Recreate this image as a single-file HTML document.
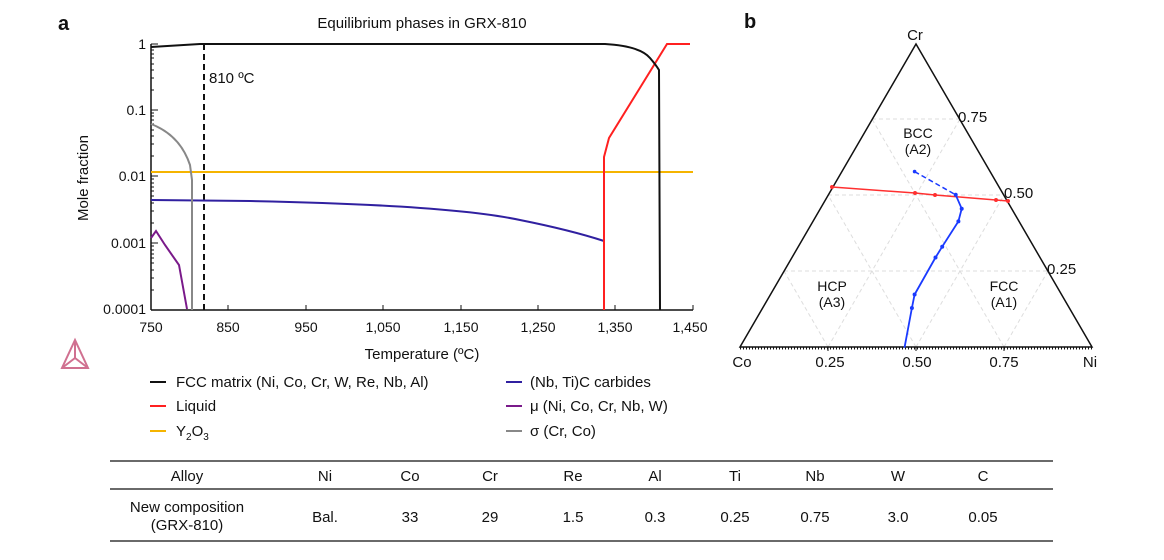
<!DOCTYPE html>
<html><head><meta charset="utf-8"><style>
body{margin:0;background:#fff;width:1164px;height:560px;overflow:hidden;font-family:"Liberation Sans",Arial,sans-serif;}
svg{position:absolute;left:0;top:0}
text{font-family:"Liberation Sans",Arial,sans-serif;fill:#111}
</style></head><body>
<svg width="1164" height="560" viewBox="0 0 1164 560">
<text x="58" y="30" font-size="20" font-weight="bold">a</text>
<text x="422" y="28" font-size="15" text-anchor="middle">Equilibrium phases in GRX-810</text>
<g stroke="#111" stroke-width="1.5" fill="none">
<line x1="151" y1="44" x2="151" y2="310"/>
<line x1="151" y1="310" x2="693" y2="310"/>
</g>
<g stroke="#111" stroke-width="1">
<line x1="151" y1="44" x2="158" y2="44"/><line x1="151" y1="110" x2="158" y2="110"/><line x1="151" y1="176" x2="158" y2="176"/><line x1="151" y1="243" x2="158" y2="243"/>
<line x1="228" y1="310" x2="228" y2="305"/><line x1="306" y1="310" x2="306" y2="305"/><line x1="383" y1="310" x2="383" y2="305"/><line x1="461" y1="310" x2="461" y2="305"/><line x1="538" y1="310" x2="538" y2="305"/><line x1="615" y1="310" x2="615" y2="305"/><line x1="693" y1="310" x2="693" y2="305"/>
</g>
<g stroke="#111" stroke-width="1">
<path d="M151,290h3M151,278h3M151,270h3M151,263h3M151,258h3M151,254h3M151,250h3M151,246h3
M151,223h3M151,211h3M151,203h3M151,196h3M151,191h3M151,187h3M151,183h3M151,179h3
M151,156h3M151,144h3M151,136h3M151,130h3M151,124h3M151,120h3M151,116h3M151,113h3
M151,90h3M151,78h3M151,70h3M151,64h3M151,58h3M151,54h3M151,50h3M151,47h3"/>
</g>
<g font-size="14" text-anchor="end">
<text x="146" y="49">1</text><text x="146" y="115">0.1</text><text x="146" y="181">0.01</text><text x="146" y="248">0.001</text><text x="146" y="314">0.0001</text>
</g>
<g font-size="14" text-anchor="middle">
<text x="151" y="332">750</text><text x="228" y="332">850</text><text x="306" y="332">950</text><text x="383" y="332">1,050</text><text x="461" y="332">1,150</text><text x="538" y="332">1,250</text><text x="615" y="332">1,350</text><text x="690" y="332">1,450</text>
</g>
<text x="422" y="359" font-size="15" text-anchor="middle">Temperature (ºC)</text>
<text transform="translate(88,178) rotate(-90)" font-size="15" text-anchor="middle">Mole fraction</text>
<line x1="204" y1="44" x2="204" y2="310" stroke="#111" stroke-width="2" stroke-dasharray="6,4"/>
<text x="209" y="83" font-size="15">810 ºC</text>
<polyline points="151,172 693,172" stroke="#f5b400" stroke-width="2" fill="none"/>
<path d="M151,200 L250,201 Q450,205 520,220 Q570,230 604,241" stroke="#3020a0" stroke-width="2" fill="none"/>
<path d="M151,124 Q180,135 190,165 L192,180 L192,310" stroke="#888" stroke-width="2" fill="none"/>
<path d="M151,238 L156,231 L165,245 L179,265 L187,309" stroke="#7a1a8a" stroke-width="2" fill="none"/>
<path d="M604,310 L604,157 L609,138 L667,44 L690,44" stroke="#ff2020" stroke-width="2" fill="none"/>
<path d="M151,47 L200,44 L605,44 Q640,46 650,58 Q656,65 659,70 L660,310" stroke="#111" stroke-width="2" fill="none"/>
<g stroke="#d07090" fill="none" stroke-width="2"><polygon points="75,340 62,368 88,368"/><line x1="75" y1="340" x2="75" y2="358"/><line x1="62" y1="368" x2="75" y2="358"/><line x1="88" y1="368" x2="75" y2="358"/></g>
<g stroke-width="2">
<line x1="150" y1="382" x2="166" y2="382" stroke="#111"/>
<line x1="150" y1="406" x2="166" y2="406" stroke="#ff2020"/>
<line x1="150" y1="431" x2="166" y2="431" stroke="#f5b400"/>
<line x1="506" y1="382" x2="522" y2="382" stroke="#3020a0"/>
<line x1="506" y1="406" x2="522" y2="406" stroke="#7a1a8a"/>
<line x1="506" y1="431" x2="522" y2="431" stroke="#888"/>
</g>
<g font-size="15">
<text x="176" y="387">FCC matrix (Ni, Co, Cr, W, Re, Nb, Al)</text>
<text x="176" y="411">Liquid</text>
<text x="176" y="436">Y<tspan font-size="10" dy="4">2</tspan><tspan dy="-4">O</tspan><tspan font-size="10" dy="4">3</tspan></text>
<text x="530" y="387">(Nb, Ti)C carbides</text>
<text x="530" y="411">μ (Ni, Co, Cr, Nb, W)</text>
<text x="530" y="436">σ (Cr, Co)</text>
</g>
<text x="744" y="28" font-size="20" font-weight="bold">b</text>
<g stroke="#ddd" stroke-width="1" stroke-dasharray="4,3" fill="none">
<line x1="784" y1="271" x2="1048" y2="271"/><line x1="828" y1="195" x2="1004" y2="195"/><line x1="872" y1="119" x2="960" y2="119"/>
<line x1="828" y1="347" x2="960" y2="119"/><line x1="916" y1="347" x2="1004" y2="195"/><line x1="1004" y1="347" x2="1048" y2="271"/>
<line x1="1004" y1="347" x2="872" y2="119"/><line x1="916" y1="347" x2="828" y2="195"/><line x1="828" y1="347" x2="784" y2="271"/>
</g>
<polygon points="740,347 1092,347 916,44" fill="none" stroke="#111" stroke-width="1.5"/>
<g stroke="#111" stroke-width="1">
<line x1="828" y1="347" x2="828" y2="351"/><line x1="916" y1="347" x2="916" y2="351"/><line x1="1004" y1="347" x2="1004" y2="351"/>
</g>
<line x1="740" y1="348.5" x2="1092" y2="348.5" stroke="#111" stroke-width="2" stroke-dasharray="1,2"/>
<text x="915" y="40" font-size="15" text-anchor="middle">Cr</text>
<g font-size="15">
<text x="958" y="122">0.75</text><text x="1004" y="198">0.50</text><text x="1047" y="274">0.25</text>
</g>
<g font-size="15" text-anchor="middle">
<text x="742" y="367">Co</text><text x="830" y="367">0.25</text><text x="917" y="367">0.50</text><text x="1004" y="367">0.75</text><text x="1090" y="367">Ni</text>
</g>
<g font-size="14" text-anchor="middle">
<text x="918" y="138">BCC</text><text x="918" y="154">(A2)</text>
<text x="832" y="291">HCP</text><text x="832" y="307">(A3)</text>
<text x="1004" y="291">FCC</text><text x="1004" y="307">(A1)</text>
</g>
<polyline points="832,187 915,193 935,195 996,200 1008,201" stroke="#ff3030" stroke-width="1.5" fill="none"/>
<g fill="#ff3030"><circle cx="832" cy="187" r="2"/><circle cx="915" cy="193" r="2"/><circle cx="935" cy="195" r="2"/><circle cx="996" cy="200" r="2"/><circle cx="1008" cy="201" r="2"/></g>
<line x1="914.6" y1="171.6" x2="955.7" y2="194.8" stroke="#1a3aff" stroke-width="1.5" stroke-dasharray="5,3"/>
<polyline points="955.7,194.8 961.7,208.7 958.4,221.4 942.2,246.7 935.5,257.5 914.6,294.5 911.9,308 904.5,347.7" stroke="#1a3aff" stroke-width="1.8" fill="none"/>
<g fill="#1a3aff"><circle cx="914.6" cy="171.6" r="1.8"/><circle cx="955.7" cy="194.8" r="2"/><circle cx="961.7" cy="208.7" r="2"/><circle cx="958.4" cy="221.4" r="2"/><circle cx="942.2" cy="246.7" r="2"/><circle cx="935.5" cy="257.5" r="2"/><circle cx="914.6" cy="294.5" r="2"/><circle cx="911.9" cy="308" r="2"/></g>
<g stroke="#111" stroke-width="1.2">
<line x1="110" y1="461" x2="1053" y2="461"/><line x1="110" y1="489" x2="1053" y2="489"/><line x1="110" y1="541" x2="1053" y2="541"/>
</g>
<g font-size="15" text-anchor="middle">
<text x="187" y="481">Alloy</text><text x="325" y="481">Ni</text><text x="410" y="481">Co</text><text x="490" y="481">Cr</text><text x="573" y="481">Re</text><text x="655" y="481">Al</text><text x="735" y="481">Ti</text><text x="815" y="481">Nb</text><text x="898" y="481">W</text><text x="983" y="481">C</text>
<text x="187" y="512">New composition</text><text x="187" y="530">(GRX-810)</text>
<text x="325" y="522">Bal.</text><text x="410" y="522">33</text><text x="490" y="522">29</text><text x="573" y="522">1.5</text><text x="655" y="522">0.3</text><text x="735" y="522">0.25</text><text x="815" y="522">0.75</text><text x="898" y="522">3.0</text><text x="983" y="522">0.05</text>
</g>
</svg>
</body></html>
